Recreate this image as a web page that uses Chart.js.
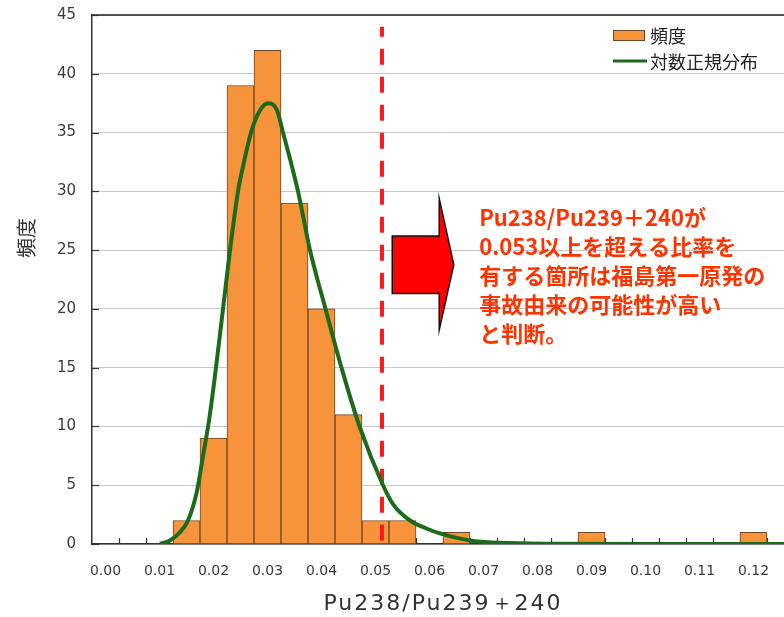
<!DOCTYPE html>
<html><head><meta charset="utf-8">
<script src="https://cdn.jsdelivr.net/npm/chart.js@4.4.1/dist/chart.umd.min.js"></script>
<style>html,body{margin:0;padding:0;overflow:hidden;background:#fff}#wrap{width:810px;height:617px}</style>
</head><body><div id="wrap"><canvas id="c"></canvas></div>
<script>
// ---- data ----
const binCenters = [0.000,0.005,0.010,0.015,0.020,0.025,0.030,0.035,0.040,0.045,0.050,0.055,0.060,0.065,0.070,0.075,0.080,0.085,0.090,0.095,0.100,0.105,0.110,0.115,0.120,0.125];
const frequency  = [0,0,0,2,9,39,42,29,20,11,2,2,0,1,0,0,0,0,1,0,0,0,0,0,1,0];
const xTickValues = [0.00,0.01,0.02,0.03,0.04,0.05,0.06,0.07,0.08,0.09,0.10,0.11,0.12];
const xTickLabels = ['0.00','0.01','0.02','0.03','0.04','0.05','0.06','0.07','0.08','0.09','0.10','0.11','0.12'];
const yTickValues = [0,5,10,15,20,25,30,35,40,45];
const curveX = [0.01009,0.01194,0.01380,0.01528,0.01694,0.01806,0.01917,0.02046,0.02176,0.02306,0.02454,0.02565,0.02694,0.02861,0.03009,0.03176,0.03287,0.03426,0.03565,0.03787,0.04074,0.04370,0.04704,0.05139,0.05324,0.05639,0.05954,0.06194,0.0675,0.07306,0.0823,0.1008,0.1275];
const curveY = [0,0.3,1.0,2.0,4.5,7.5,10.5,15,20,25,30,32.5,35,36.9,37.5,36.9,35.0,32.6,30.0,25.0,20.0,15.0,10.0,5.0,3.4,2.0,1.3,0.9,0.3,0.1,0.02,0,0];
const thresholdX = 0.0512;
const seriesNames = ['頻度','対数正規分布'];
const xTitle = 'Pu238/Pu239＋240';
const yTitle = '頻度';
const noteLines = ['Pu238/Pu239＋240が','0.053以上を超える比率を','有する箇所は福島第一原発の','事故由来の可能性が高い','と判断。'];

// ---- annotation geometry (in data units) ----
const arrowShape = { tail:0.0531, neck:0.0618, tip:0.0645, shaftTop:26.2, shaftBottom:21.3, headTop:29.4, headBottom:18.2 };
const noteAnchor = { x:0.0692, y:27.8, lineHeight:29 };

const BAR_FILL = '#f7933a', BAR_EDGE = '#6e4626', CURVE = '#1b6b1b', DASH = '#ff1a1a', NOTE = '#ff3300';

const extras = {
  id:'extras',
  beforeDatasetsDraw(chart){
    const {ctx, chartArea:a, scales:{x}} = chart;
    ctx.save();
    ctx.strokeStyle = '#333'; ctx.lineWidth = 1.2;
    for (let i=0;i<binCenters.length-1;i++){
      const px = Math.round(x.getPixelForValue(binCenters[i]+0.0025))+0.5;
      ctx.beginPath(); ctx.moveTo(px,a.bottom); ctx.lineTo(px,a.bottom-6); ctx.stroke();
    }
    ctx.restore();
  },
  afterDraw(chart){
    const {ctx, chartArea:a, scales:{x,y}} = chart;
    ctx.save();
    // top border
    ctx.strokeStyle='#222'; ctx.lineWidth=1.5;
    ctx.beginPath(); ctx.moveTo(a.left,a.top); ctx.lineTo(a.right,a.top); ctx.stroke();
    // y inward ticks
    ctx.lineWidth=1.2; ctx.strokeStyle='#333';
    yTickValues.forEach(v=>{ const py=Math.round(y.getPixelForValue(v))+0.5; ctx.beginPath(); ctx.moveTo(a.left,py); ctx.lineTo(a.left+7,py); ctx.stroke(); });
    // arrow
    const s = arrowShape;
    const X = v=>x.getPixelForValue(v), Y = v=>y.getPixelForValue(v);
    ctx.beginPath();
    ctx.moveTo(X(s.tail),Y(s.shaftTop));
    ctx.lineTo(X(s.neck),Y(s.shaftTop));
    ctx.lineTo(X(s.neck),Y(s.headTop));
    ctx.lineTo(X(s.tip),Y((s.shaftTop+s.shaftBottom)/2));
    ctx.lineTo(X(s.neck),Y(s.headBottom));
    ctx.lineTo(X(s.neck),Y(s.shaftBottom));
    ctx.lineTo(X(s.tail),Y(s.shaftBottom));
    ctx.closePath();
    ctx.fillStyle='#ff0000'; ctx.fill();
    ctx.strokeStyle='#111'; ctx.lineWidth=1.5; ctx.stroke();
    // note text
    ctx.fillStyle=NOTE; ctx.font='bold 22px "Noto Sans CJK JP"'; ctx.textBaseline='middle'; ctx.textAlign='left';
    noteLines.forEach((t,i)=>ctx.fillText(t, X(noteAnchor.x), Y(noteAnchor.y)+i*noteAnchor.lineHeight));
    // legend
    const lx = a.right-181, ly = a.top;
    ctx.fillStyle=BAR_FILL; ctx.fillRect(lx, ly+15, 32, 11);
    ctx.strokeStyle=BAR_EDGE; ctx.lineWidth=1; ctx.strokeRect(lx+0.5, ly+15.5, 31, 10);
    ctx.strokeStyle=CURVE; ctx.lineWidth=3;
    ctx.beginPath(); ctx.moveTo(lx, ly+46); ctx.lineTo(lx+34, ly+46); ctx.stroke();
    ctx.fillStyle='#222'; ctx.font='18px "Noto Sans CJK JP"';
    ctx.fillText(seriesNames[0], lx+37, ly+21);
    ctx.fillText(seriesNames[1], lx+37, ly+47);
    // y title
    ctx.save();
    ctx.translate(26, 238); ctx.rotate(-Math.PI/2);
    ctx.textAlign='center'; ctx.fillStyle='#333'; ctx.font='20px "Noto Sans CJK JP"';
    ctx.fillText(yTitle, 0, 0);
    ctx.restore();
    // x title
    ctx.textAlign='center'; ctx.fillStyle='#333'; ctx.font='22px "DejaVu Sans"';
    try { ctx.letterSpacing='2px'; } catch(e){}
    ctx.fillText(xTitle, (a.left+a.right)/2, 604);
    ctx.restore();
  }
};

new Chart(document.getElementById('c'), {
  type:'bar',
  data:{
    datasets:[
      { type:'line', label:seriesNames[1], data:curveX.map((v,i)=>({x:v,y:curveY[i]})),
        borderColor:CURVE, borderWidth:4, pointRadius:0, cubicInterpolationMode:'monotone', fill:false, order:1 },
      { type:'line', label:'threshold', data:[{x:thresholdX,y:44},{x:thresholdX,y:0}],
        borderColor:DASH, borderWidth:4, borderDash:[16,12], borderDashOffset:6, pointRadius:0, fill:false, order:2 },
      { type:'bar', label:seriesNames[0], data:binCenters.map((v,i)=>({x:v,y:frequency[i]})),
        backgroundColor:BAR_FILL, borderColor:BAR_EDGE, borderWidth:1, barPercentage:1, categoryPercentage:1, order:3 }
    ]
  },
  options:{
    responsive:true, maintainAspectRatio:false, animation:false,
    layout:{ padding:{ top:15, right:16, bottom:0, left:0 } },
    plugins:{ legend:{display:false}, tooltip:{enabled:false} },
    scales:{
      x:{ type:'linear', min:-0.0025, max:0.1275, offset:false,
        grid:{display:false, drawTicks:false}, border:{display:true, color:'#333', width:1.5},
        afterBuildTicks:s=>{ s.ticks = xTickValues.map(v=>({value:v})); },
        afterFit:s=>{ s.height = 73; s.paddingLeft = 0; s.paddingRight = 0; },
        ticks:{ autoSkip:false, maxRotation:0, padding:19, color:'#3a3a3a', font:{family:'DejaVu Sans', size:14},
          callback:(v,i)=>xTickLabels[i] },
        title:{display:false}
      },
      y:{ min:0, max:45,
        afterBuildTicks:s=>{ s.ticks = yTickValues.map(v=>({value:v})); },
        afterFit:s=>{ s.width = 92; s.paddingTop = 0; s.paddingBottom = 0; },
        grid:{ color:'#c8c8c8', lineWidth:1, drawTicks:false },
        border:{ display:true, color:'#333', width:1.5 },
        ticks:{ padding:16, color:'#3a3a3a', font:{family:'DejaVu Sans', size:15}, callback:(v,i)=>String(yTickValues[i]) }
      }
    }
  },
  plugins:[extras]
});
</script></body></html>
